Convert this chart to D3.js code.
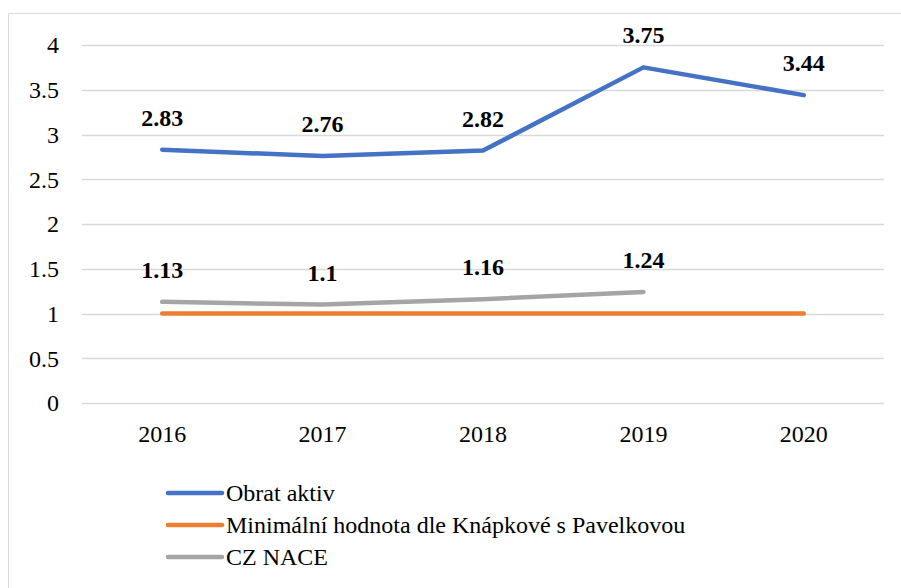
<!DOCTYPE html>
<html><head><meta charset="utf-8">
<script src="https://cdn.jsdelivr.net/npm/d3@7"></script>
</head><body style="margin:0;font-family:'Liberation Serif'">
<script>
const years = ["2016","2017","2018","2019","2020"];
const obratAktiv = [2.83, 2.76, 2.82, 3.75, 3.44];
const minimalni = [1, 1, 1, 1, 1];
const czNace = [1.13, 1.1, 1.16, 1.24, null];
const yTicks = [0, 0.5, 1, 1.5, 2, 2.5, 3, 3.5, 4];
const seriesNames = ["Obrat aktiv", "Minimální hodnota dle Knápkové s Pavelkovou", "CZ NACE"];

const W = 901, H = 588;
const svg = d3.select("body").append("svg").attr("width", W).attr("height", H)
  .style("position", "absolute").style("left", "0px").style("top", "0px");
const FF = "Liberation Serif";
const FS = 24;

// frame
svg.append("path").attr("d", `M8.5,${H} L8.5,13.5 L${W},13.5`).attr("fill","none").attr("stroke","#d9d9d9").attr("stroke-width",1);

const x = d3.scaleBand().domain(years).range([82, 884]);
const y = d3.scaleLinear().domain([0, 4]).range([403, 45]);

// gridlines
svg.append("g").selectAll("line").data(yTicks).join("line")
  .attr("x1", 82).attr("x2", 884)
  .attr("y1", d => Math.round(y(d)) + 0.5).attr("y2", d => Math.round(y(d)) + 0.5)
  .attr("stroke", "#d9d9d9").attr("stroke-width", 1.5);

// y axis labels
const yAxis = d3.axisLeft(y).tickValues(yTicks).tickSize(0).tickPadding(0).tickFormat(d => String(d));
const gy = svg.append("g").attr("transform", "translate(59,0)").call(yAxis);
gy.select(".domain").remove();
gy.attr("font-family", FF).attr("font-size", FS);
gy.selectAll("text").attr("font-family", FF).attr("fill", "#000").attr("dy", "0.33em");

// x axis labels
const xAxis = d3.axisBottom(x).tickSize(0).tickPadding(0);
const gx = svg.append("g").attr("transform", "translate(0,425)").call(xAxis);
gx.select(".domain").remove();
gx.attr("font-family", FF).attr("font-size", FS);
gx.selectAll("text").attr("font-family", FF).attr("fill", "#000").attr("dy", "0.71em");

const cx = d => x(d) + x.bandwidth() / 2;
const colors = ["#4472C4", "#ED7D31", "#A5A5A5"];
const allSeries = [obratAktiv, minimalni, czNace];

const line = d3.line().defined(d => d.v != null).x(d => cx(d.k)).y(d => y(d.v));

// draw order: orange, gray, blue
[1, 2, 0].forEach(i => {
  const data = years.map((k, j) => ({k, v: allSeries[i][j]}));
  svg.append("path").datum(data).attr("d", line)
    .attr("fill", "none").attr("stroke", colors[i]).attr("stroke-width", 4.5)
    .attr("stroke-linecap", "round").attr("stroke-linejoin", "round");
});

// data labels
[0, 2].forEach(i => {
  const data = years.map((k, j) => ({k, v: allSeries[i][j]})).filter(d => d.v != null);
  svg.append("g").selectAll("text").data(data).join("text")
    .attr("x", d => cx(d.k)).attr("y", d => y(d.v) - 24)
    .attr("text-anchor", "middle").attr("font-family", FF).attr("font-size", FS)
    .attr("font-weight", "bold").attr("fill", "#000").text(d => String(d.v));
});

// legend
const lg = svg.append("g");
seriesNames.forEach((n, i) => {
  const yy = 493 + i * 32;
  lg.append("line").attr("x1", 168).attr("x2", 222).attr("y1", yy).attr("y2", yy)
    .attr("stroke", colors[i]).attr("stroke-width", 4.5).attr("stroke-linecap", "round");
  lg.append("text").attr("x", 226).attr("y", yy).attr("dy", "0.33em")
    .attr("font-family", FF).attr("font-size", FS).attr("fill", "#000").text(n);
});
</script>
</body></html>
